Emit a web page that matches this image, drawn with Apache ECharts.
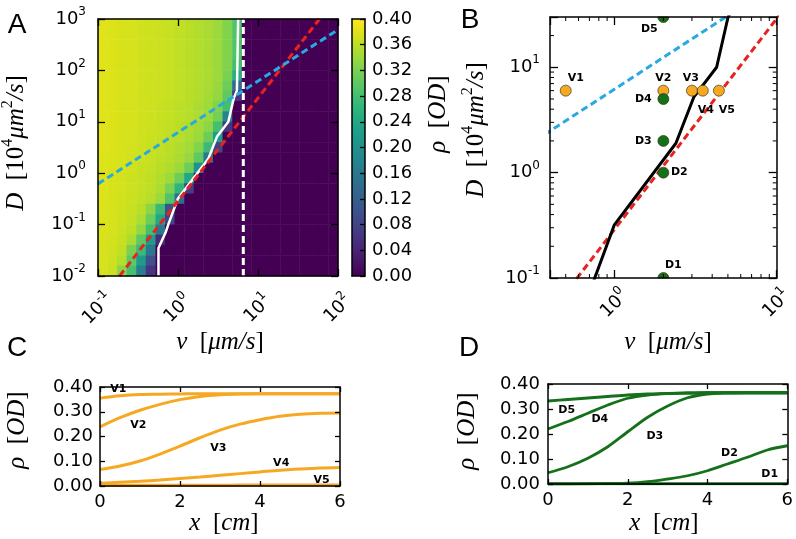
<!DOCTYPE html>
<html><head><meta charset="utf-8">
<script src="https://cdn.jsdelivr.net/npm/echarts@6/dist/echarts.min.js"></script>
<style>html,body{margin:0;padding:0;background:#fff}#c{width:796px;height:539px}</style>
</head><body><div id="c"></div>
<script>
// ================= DATA =================
// Panel A heat map: rows from top (D = 10^3) to bottom (D = 10^-2), 25 log bins each way.
// Each row lists rho [OD] for v bins from v = 10^-1 upward; bins not listed are 0.
const heatRows = [
  [0.380,0.378,0.376,0.374,0.372,0.370,0.368,0.365,0.362,0.358,0.354,0.348,0.340,0.325,0.290],
  [0.380,0.378,0.376,0.374,0.372,0.370,0.368,0.365,0.362,0.358,0.354,0.348,0.340,0.325,0.290],
  [0.380,0.378,0.376,0.374,0.372,0.370,0.368,0.365,0.362,0.358,0.354,0.348,0.340,0.325,0.290],
  [0.380,0.378,0.376,0.374,0.372,0.370,0.368,0.365,0.362,0.358,0.354,0.348,0.340,0.325,0.290],
  [0.380,0.378,0.376,0.374,0.372,0.370,0.368,0.365,0.362,0.358,0.354,0.348,0.340,0.325,0.280],
  [0.380,0.378,0.376,0.374,0.372,0.370,0.368,0.365,0.362,0.358,0.354,0.348,0.340,0.320,0.250],
  [0.380,0.378,0.376,0.374,0.372,0.370,0.368,0.365,0.362,0.358,0.354,0.348,0.338,0.310,0.140],
  [0.380,0.378,0.376,0.374,0.372,0.370,0.368,0.365,0.362,0.358,0.354,0.346,0.335,0.300,0.060],
  [0.380,0.378,0.376,0.374,0.372,0.370,0.367,0.364,0.360,0.356,0.350,0.342,0.325,0.280],
  [0.380,0.378,0.376,0.374,0.372,0.370,0.367,0.364,0.360,0.356,0.350,0.340,0.315,0.180],
  [0.380,0.378,0.376,0.374,0.372,0.369,0.366,0.362,0.358,0.352,0.344,0.330,0.280,0.060],
  [0.380,0.378,0.376,0.374,0.371,0.368,0.365,0.361,0.356,0.350,0.340,0.310,0.220],
  [0.380,0.378,0.376,0.373,0.370,0.367,0.363,0.358,0.352,0.344,0.325,0.270,0.080],
  [0.379,0.377,0.375,0.372,0.369,0.365,0.361,0.356,0.349,0.338,0.300,0.160],
  [0.379,0.377,0.374,0.371,0.367,0.363,0.358,0.352,0.340,0.310,0.200],
  [0.378,0.376,0.373,0.370,0.366,0.361,0.354,0.342,0.310,0.240],
  [0.378,0.376,0.373,0.369,0.365,0.360,0.350,0.320,0.260,0.070],
  [0.378,0.375,0.372,0.368,0.363,0.356,0.340,0.290,0.140],
  [0.377,0.375,0.371,0.366,0.358,0.330,0.270,0.100],
  [0.377,0.374,0.370,0.364,0.350,0.310,0.240,0.080],
  [0.377,0.374,0.369,0.360,0.335,0.280,0.160],
  [0.376,0.373,0.367,0.350,0.300,0.220,0.050],
  [0.376,0.372,0.362,0.320,0.270,0.160],
  [0.375,0.370,0.355,0.300,0.220,0.100],
  [0.375,0.368,0.330,0.280,0.170,0.060]
];
const heatCols = 25;

// Boundary curve (white in A, black in B)
const boundaryV = [0.57, 0.57, 0.70, 0.755, 0.995, 2.39, 3.08, 4.26, 5.0, 5.45, 5.65];
const boundaryD = [0.01, 0.035, 0.07, 0.10, 0.317, 1.9, 5.2, 10, 29.5, 40, 1000];
// Red dashed line
const redV = [0.186, 58.7];
const redD = [0.01, 1000];
// Blue dashed line
const blueV = [0.1, 100];
const blueD = [0.62, 620];
// White dashed vertical line (A)
const vertV = [6.55, 6.55];
const vertD = [0.01, 1000];

// Panel B markers
const vNames = ['V1', 'V2', 'V3', 'V4', 'V5'];
const vMarkV = [0.5, 2, 3, 3.5, 4.4];
const vMarkD = [6, 6, 6, 6, 6];
const dNames = ['D1', 'D2', 'D3', 'D4', 'D5'];
const dMarkV = [2, 2, 2, 2, 2];
const dMarkD = [0.1, 1, 2, 5, 30];

// Panels C & D profiles
const xCm = [0, 0.5, 1, 1.5, 2, 2.5, 3, 3.5, 4, 4.5, 5, 5.5, 6];
const rhoV1 = [0.355,0.365,0.370,0.371,0.372,0.373,0.373,0.373,0.373,0.373,0.373,0.373,0.373];
const rhoV2 = [0.239,0.276,0.306,0.330,0.349,0.362,0.369,0.372,0.373,0.373,0.373,0.373,0.373];
const rhoV3 = [0.067,0.081,0.101,0.129,0.161,0.195,0.226,0.250,0.268,0.282,0.290,0.294,0.295];
const rhoV4 = [0.011,0.015,0.019,0.024,0.030,0.036,0.043,0.050,0.057,0.064,0.069,0.073,0.075];
const rhoV5 = [0.003,0.003,0.003,0.003,0.003,0.003,0.003,0.004,0.004,0.004,0.004,0.004,0.004];
const rhoD5 = [0.332,0.338,0.344,0.350,0.356,0.360,0.362,0.364,0.365,0.365,0.365,0.365,0.365];
const rhoD4 = [0.220,0.250,0.283,0.316,0.343,0.356,0.362,0.364,0.365,0.365,0.365,0.365,0.365];
const rhoD3 = [0.045,0.069,0.103,0.149,0.209,0.267,0.312,0.345,0.360,0.364,0.365,0.365,0.365];
const rhoD2 = [0.000,0.000,0.001,0.002,0.003,0.009,0.020,0.033,0.053,0.080,0.107,0.136,0.153];
const rhoD1 = [0.001,0.001,0.001,0.001,0.001,0.001,0.001,0.001,0.001,0.001,0.001,0.001,0.001];
// annotation anchors (data coords)
const cLabelX = [0.46, 0.96, 2.96, 4.53, 5.54];
const cLabelY = [0.393, 0.246, 0.152, 0.091, 0.024];
const dLabelX = [0.47, 1.30, 2.68, 4.55, 5.56];
const dLabelY = [0.296, 0.259, 0.192, 0.125, 0.039];
const dLabelNames = ['D5', 'D4', 'D3', 'D2', 'D1'];

// minor ticks of panel B (log axes)
const bMinorV = [0.5,0.6,0.7,0.8,0.9,2,3,4,5,6,7,8,9];
const bMinorD = [0.2,0.3,0.4,0.5,0.6,0.7,0.8,0.9,2,3,4,5,6,7,8,9,20];

// ================= STYLE =================
const SANS = 'DejaVu Sans';
const SERIF = 'Liberation Serif';
const ORANGE = '#f7a823';
const GREEN = '#15701a';
const RED = '#e8231f';
const BLUE = '#27a9e1';
const viridis = ['#440154','#471365','#482475','#463480','#414487','#3b528b','#355f8d','#2f6c8e','#2a788e','#25848e','#21918c','#1e9c89','#22a884','#2fb47c','#44bf70','#5ec962','#7ad151','#9bd93c','#bddf26','#dfe318','#fde725'];
// offsets of marker labels in B (px)
const vLabelOff = [[10,-13],[0,-13],[-1,-13],[3,19],[8,19]];
const dLabelOff = [[10,-13],[16,0],[-20,0],[-20,0],[-14,12]];

const grids = [
  {left: 98, top: 19, width: 240, height: 257},   // 0 A heat
  {left: 98, top: 19, width: 240, height: 257},   // 1 A log
  {left: 352, top: 19, width: 13, height: 257},   // 2 colorbar
  {left: 550, top: 17, width: 233, height: 261},  // 3 B
  {left: 100, top: 387, width: 240, height: 99},  // 4 C
  {left: 548, top: 384, width: 240, height: 100}  // 5 D
];

const supRich = {
  b: {fontFamily: SANS, fontSize: 18, color: '#000', lineHeight: 26},
  s: {fontFamily: SANS, fontSize: 12, color: '#000', verticalAlign: 'top', lineHeight: 14}
};
function powLabel(v) {
  const e = Math.log10(v); const r = Math.round(e);
  if (Math.abs(e - r) > 1e-6) return '';
  return '{b|10}{s|' + (r < 0 ? '-' + (-r) : r) + '}';
}
const LINE = {show: true, onZero: false, lineStyle: {color: '#000', width: 1.5}};
function tick(len, show = true) { return {show, inside: true, length: len, lineStyle: {color: '#000', width: 1.3}}; }

function logAxis(grid, pos, min, max, labels, tickLen, rotate, rotMargin) {
  const lab = labels ? {show: true, margin: 9, formatter: powLabel, rich: supRich, showMinLabel: true, showMaxLabel: true} : {show: false};
  if (labels && rotate) Object.assign(lab, {rotate, align: 'center', verticalAlign: 'middle', margin: rotMargin});
  return {
    gridIndex: grid, type: 'log', logBase: 10, min, max, position: pos, z: 10,
    axisLine: LINE, axisTick: tick(tickLen), splitLine: {show: false}, axisLabel: lab
  };
}
function valAxis(grid, pos, min, max, interval, labels, tickLen, digits, margin) {
  return {
    gridIndex: grid, type: 'value', min, max, interval, position: pos, z: 10,
    axisLine: LINE, axisTick: tick(tickLen), splitLine: {show: false},
    axisLabel: labels ? {show: true, margin: margin, fontFamily: SANS, fontSize: 18, color: '#000',
      formatter: v => v.toFixed(digits)} : {show: false}
  };
}
const idx = n => Array.from({length: n}, (_, i) => i);

const xAxes = [
  {gridIndex: 0, type: 'category', data: idx(heatCols), show: false},
  logAxis(1, 'bottom', 0.1, 100, true, 7, 45, 33),
  logAxis(1, 'top', 0.1, 100, false, 7),
  {gridIndex: 2, type: 'value', min: 0, max: 1, position: 'bottom', z: 10, axisLine: LINE, axisTick: {show: false}, axisLabel: {show: false}, splitLine: {show: false}},
  {gridIndex: 2, type: 'value', min: 0, max: 1, position: 'top', z: 10, axisLine: LINE, axisTick: {show: false}, axisLabel: {show: false}, splitLine: {show: false}},
  logAxis(3, 'bottom', 0.4, 10, true, 8, 45, 26),
  logAxis(3, 'top', 0.4, 10, false, 8),
  valAxis(4, 'bottom', 0, 6, 2, true, 5, 0, 7),
  valAxis(4, 'top', 0, 6, 2, false, 5, 0),
  valAxis(5, 'bottom', 0, 6, 2, true, 5, 0, 7),
  valAxis(5, 'top', 0, 6, 2, false, 5, 0)
];
const yAxes = [
  {gridIndex: 0, type: 'category', data: idx(heatRows.length), show: false},
  logAxis(1, 'left', 0.01, 1000, true, 7),
  logAxis(1, 'right', 0.01, 1000, false, 7),
  {gridIndex: 2, type: 'value', min: 0, max: 0.4, position: 'left', z: 10, axisLine: LINE, axisTick: {show: false}, axisLabel: {show: false}, splitLine: {show: false}},
  valAxis(2, 'right', 0, 0.4, 0.04, true, 5, 2, 7),
  logAxis(3, 'left', 0.1, 30, true, 8),
  logAxis(3, 'right', 0.1, 30, false, 8),
  valAxis(4, 'left', 0, 0.4, 0.1, true, 5, 2, 7),
  valAxis(4, 'right', 0, 0.4, 0.1, false, 5, 2),
  valAxis(5, 'left', 0, 0.4, 0.1, true, 5, 2, 8),
  valAxis(5, 'right', 0, 0.4, 0.1, false, 5, 2)
];
yAxes[1].axisLabel.margin = 12;
yAxes[5].axisLabel.margin = 10;

// heat data
const heatData = [];
heatRows.forEach((row, r) => {
  for (let c = 0; c < heatCols; c++) heatData.push([c, heatRows.length - 1 - r, c < row.length ? row[c] : 0]);
});

function lineS(xi, yi, xs, ys, color, width, type, extra) {
  return Object.assign({
    type: 'line', xAxisIndex: xi, yAxisIndex: yi, data: xs.map((x, i) => [x, ys[i]]),
    showSymbol: false, symbol: 'none', clip: true, silent: true, z: 4,
    lineStyle: {color, width, type: type || 'solid', cap: 'butt'}
  }, extra || {});
}
function markerS(vs, ds, names, offs, color) {
  return {
    type: 'custom', xAxisIndex: 5, yAxisIndex: 5, z: 6, silent: true,
    data: vs.map((v, i) => [v, ds[i]]),
    renderItem: (params, api) => {
      const p = api.coord([api.value(0), api.value(1)]);
      const i = params.dataIndex;
      const cs = params.coordSys;
      // keep only the part of the disc that lies inside the axes box
      let a0 = 0, a1 = Math.PI * 2;
      if (Math.abs(p[1] - cs.y) < 1) { a0 = 0; a1 = Math.PI; }
      else if (Math.abs(p[1] - (cs.y + cs.height)) < 1) { a0 = Math.PI; a1 = Math.PI * 2; }
      return {type: 'group', children: [
        {type: 'sector', shape: {cx: p[0], cy: p[1], r0: 0, r: 5.5, startAngle: a0, endAngle: a1, clockwise: true},
          style: {fill: color, stroke: '#3a3a1a', lineWidth: 0.7}},
        {type: 'text', x: p[0] + offs[i][0], y: p[1] + offs[i][1],
          style: {text: names[i], font: 'bold 11px "DejaVu Sans"', fill: '#000', align: 'center', verticalAlign: 'middle'}}
      ]};
    }
  };
}
function textS(xi, yi, xs, ys, names) {
  return {
    type: 'custom', xAxisIndex: xi, yAxisIndex: yi, z: 6, silent: true,
    data: xs.map((x, i) => [x, ys[i]]),
    renderItem: (params, api) => {
      const p = api.coord([api.value(0), api.value(1)]);
      return {type: 'text', x: p[0], y: p[1],
        style: {text: names[params.dataIndex], font: 'bold 11px "DejaVu Sans"', fill: '#000', align: 'center', verticalAlign: 'middle'}};
    }
  };
}
const SM = {smooth: 0.3};

const series = [
  {type: 'heatmap', xAxisIndex: 0, yAxisIndex: 0, data: heatData, silent: true, progressive: 0, itemStyle: {borderWidth: 0}},
  lineS(1, 1, boundaryV, boundaryD, '#fff', 2.5),
  lineS(1, 1, redV, redD, RED, 3, [7, 4]),
  lineS(1, 1, blueV, blueD, BLUE, 3, [7, 4]),
  lineS(1, 1, vertV, vertD, '#fff', 3, [7, 4]),
  {
    type: 'custom', xAxisIndex: 3, yAxisIndex: 4, z: 3, silent: true, data: [[0, 0]],
    renderItem: (params, api) => {
      const a = api.coord([0, 0]); const b = api.coord([1, 0.4]);
      return {type: 'rect', shape: {x: a[0], y: b[1], width: b[0] - a[0], height: a[1] - b[1]},
        style: {fill: new echarts.graphic.LinearGradient(0, 1, 0, 0, viridis.map((c, i) => ({offset: i / (viridis.length - 1), color: c})))}};
    }
  },
  lineS(5, 5, blueV, blueD, BLUE, 3, [7, 4]),
  lineS(5, 5, redV, redD, RED, 3, [7, 4]),
  lineS(5, 5, boundaryV, boundaryD, '#000', 3),
  markerS(vMarkV, vMarkD, vNames, vLabelOff, ORANGE),
  markerS(dMarkV, dMarkD, dNames, dLabelOff, GREEN),
  {
    type: 'custom', xAxisIndex: 5, yAxisIndex: 5, z: 10, silent: true, data: [[1, 1]],
    renderItem: (params, api) => {
      const cs = params.coordSys; const ch = [];
      const st = {stroke: '#000', lineWidth: 1};
      bMinorV.forEach(v => {
        const x = api.coord([v, 1])[0];
        ch.push({type: 'line', shape: {x1: x, y1: cs.y + cs.height, x2: x, y2: cs.y + cs.height - 4}, style: st});
        ch.push({type: 'line', shape: {x1: x, y1: cs.y, x2: x, y2: cs.y + 4}, style: st});
      });
      bMinorD.forEach(d => {
        const y = api.coord([1, d])[1];
        ch.push({type: 'line', shape: {x1: cs.x, y1: y, x2: cs.x + 4, y2: y}, style: st});
        ch.push({type: 'line', shape: {x1: cs.x + cs.width, y1: y, x2: cs.x + cs.width - 4, y2: y}, style: st});
      });
      return {type: 'group', children: ch};
    }
  },
  lineS(7, 7, xCm, rhoV1, ORANGE, 3, 'solid', SM),
  lineS(7, 7, xCm, rhoV2, ORANGE, 3, 'solid', SM),
  lineS(7, 7, xCm, rhoV3, ORANGE, 3, 'solid', SM),
  lineS(7, 7, xCm, rhoV4, ORANGE, 3, 'solid', SM),
  lineS(7, 7, xCm, rhoV5, ORANGE, 3, 'solid', SM),
  textS(7, 7, cLabelX, cLabelY, vNames),
  lineS(9, 9, xCm, rhoD5, GREEN, 2.8, 'solid', SM),
  lineS(9, 9, xCm, rhoD4, GREEN, 2.8, 'solid', SM),
  lineS(9, 9, xCm, rhoD3, GREEN, 2.8, 'solid', SM),
  lineS(9, 9, xCm, rhoD2, GREEN, 2.8, 'solid', SM),
  lineS(9, 9, xCm, rhoD1, GREEN, 2.8, 'solid', SM),
  textS(9, 9, dLabelX, dLabelY, dLabelNames)
];

const FS = 25;
const mathRich = {
  i: {fontFamily: SERIF, fontStyle: 'italic', fontSize: FS, fill: '#000', lineHeight: 32},
  r: {fontFamily: SERIF, fontSize: FS, fill: '#000', lineHeight: 32},
  s: {fontFamily: SERIF, fontSize: 16, fill: '#000', verticalAlign: 'top', lineHeight: 17}
};
function mathText(x, y, text, rot) {
  return {type: 'text', x, y, rotation: rot ? Math.PI / 2 : 0, z: 20,
    style: {text, rich: mathRich, font: FS + 'px "Liberation Serif"', fill: '#000',
      align: 'center', verticalAlign: 'middle', textAlign: 'center', textVerticalAlign: 'middle'}};
}
function letter(x, y, t) {
  return {type: 'text', x, y, z: 20, style: {text: t, font: '28px "Liberation Sans"', fill: '#000',
    align: 'center', verticalAlign: 'middle', textAlign: 'center', textVerticalAlign: 'middle'}};
}
const DTITLE = '{i|D}  {r|[10}{s|4}{i|μm}{s|2}{i|/s}{r|]}';
const VTITLE = '{i|v}  {r|[}{i|μm/s}{r|]}';
const RTITLE = '{i|ρ}  {r|[}{i|OD}{r|]}';
const XTITLE = '{i|x}  {r|[}{i|cm}{r|]}';

const chart = echarts.init(document.getElementById('c'), null, {renderer: 'canvas'});
chart.setOption({
  animation: false,
  backgroundColor: '#fff',
  grid: grids,
  xAxis: xAxes,
  yAxis: yAxes,
  visualMap: {show: false, type: 'continuous', min: 0, max: 0.4, seriesIndex: 0, dimension: 2, inRange: {color: viridis}},
  series,
  graphic: [
    letter(17, 25, 'A'), letter(470, 20, 'B'), letter(17, 348, 'C'), letter(469, 348, 'D'),
    mathText(16, 143, DTITLE, true),
    mathText(220, 342, VTITLE),
    mathText(438, 114, RTITLE, true),
    mathText(476, 130, DTITLE, true),
    mathText(668, 342, VTITLE),
    mathText(17, 430, RTITLE, true),
    mathText(224, 523, XTITLE),
    mathText(467, 431, RTITLE, true),
    mathText(664, 523, XTITLE)
  ]
});
</script></body></html>
